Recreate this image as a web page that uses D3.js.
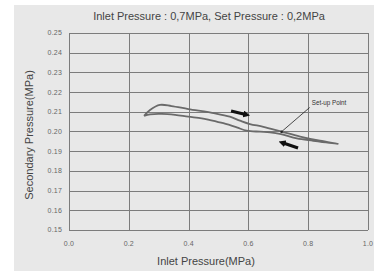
<!DOCTYPE html>
<html lang="en">
<head>
    <meta charset="UTF-8">
    <title>Inlet vs Secondary Pressure</title>
    <script src="https://d3js.org/d3.v7.min.js"></script>
    <style>
        body {
            margin: 0;
            background: #fff;
        }
        svg {
            display: block;
            font-family: "Liberation Sans", Arial, sans-serif;
        }
        .grid line {
            stroke: #7c7c7c;
            stroke-width: 1;
        }
        .tick-label {
            font-size: 7px;
            fill: #666;
            letter-spacing: 0.2px;
        }
        .axis-label {
            font-size: 11px;
            fill: #444;
        }
    </style>
</head>
<body>
    <svg width="374" height="271"></svg>
    <script>
        // Data
        const xTicks = [0.0, 0.2, 0.4, 0.6, 0.8, 1.0];
        const yTicks = [0.15, 0.16, 0.17, 0.18, 0.19, 0.20, 0.21, 0.22, 0.23, 0.24, 0.25];

        // loop: upper branch left -> right, then lower branch right -> left
        const inletPressure = [0.251, 0.271, 0.304, 0.343, 0.399, 0.488, 0.538, 0.572, 0.605, 0.650, 0.711, 0.773, 0.839, 0.901,
                               0.817, 0.762, 0.709, 0.672, 0.639, 0.594, 0.561, 0.516, 0.472, 0.444, 0.399, 0.355, 0.310, 0.271, 0.251];
        const secondaryPressure = [0.2079, 0.2109, 0.2135, 0.2129, 0.2114, 0.2092, 0.2075, 0.2055, 0.2038, 0.2024, 0.1999, 0.1974, 0.1953, 0.1937,
                                   0.1953, 0.1965, 0.1987, 0.1996, 0.1999, 0.2004, 0.2021, 0.2042, 0.2058, 0.2067, 0.2075, 0.2084, 0.2089, 0.2087, 0.2079];

        // direction arrows [x1, y1, x2, y2]
        const arrows = [
            [0.542, 0.2104, 0.594, 0.2085],
            [0.766, 0.1916, 0.712, 0.1944]
        ];
        const setupPoint = {x: 0.711, y: 0.1999, lx: 0.805, ly: 0.2122, label: "Set-up Point"};

        const svg = d3.select("svg");

        // grey panel
        svg.append("rect")
           .attr("x", 14).attr("y", 5)
           .attr("width", 360).attr("height", 266)
           .attr("fill", "#e8e8e8");

        const x = d3.scaleLinear().domain([0, 1]).range([69, 368]);
        const y = d3.scaleLinear().domain([0.15, 0.25]).range([230, 33]);

        // gridlines
        const grid = svg.append("g").attr("class", "grid");
        grid.selectAll(".h")
            .data(yTicks)
            .enter().append("line")
            .attr("x1", x(0)).attr("x2", x(1))
            .attr("y1", d => Math.round(y(d)) + 0.5)
            .attr("y2", d => Math.round(y(d)) + 0.5);
        grid.selectAll(".v")
            .data(xTicks)
            .enter().append("line")
            .attr("y1", y(0.25)).attr("y2", y(0.15))
            .attr("x1", d => Math.round(x(d)) + 0.5)
            .attr("x2", d => Math.round(x(d)) + 0.5);

        // tick labels
        svg.selectAll(".ytl")
           .data(yTicks)
           .enter().append("text")
           .attr("class", "tick-label")
           .attr("x", 62)
           .attr("y", d => y(d))
           .attr("dy", "0.35em")
           .attr("text-anchor", "end")
           .text(d => d.toFixed(2));

        svg.selectAll(".xtl")
           .data(xTicks)
           .enter().append("text")
           .attr("class", "tick-label")
           .attr("x", d => x(d))
           .attr("y", 246)
           .attr("text-anchor", "middle")
           .text(d => d.toFixed(1));

        // title and axis labels
        svg.append("text")
           .attr("class", "axis-label")
           .attr("x", 209).attr("y", 20)
           .attr("text-anchor", "middle")
           .text("Inlet Pressure : 0,7MPa, Set Pressure : 0,2MPa");

        svg.append("text")
           .attr("class", "axis-label")
           .attr("x", 206).attr("y", 265)
           .attr("text-anchor", "middle")
           .text("Inlet Pressure(MPa)");

        svg.append("text")
           .attr("class", "axis-label")
           .attr("transform", "translate(33,135) rotate(-90)")
           .attr("text-anchor", "middle")
           .text("Secondary Pressure(MPa)");

        // the hysteresis loop
        const pts = inletPressure.map((v, i) => [v, secondaryPressure[i]]);
        const line = d3.line()
                       .x(d => x(d[0]))
                       .y(d => y(d[1]))
                       .curve(d3.curveCatmullRom);
        svg.append("path")
           .datum(pts)
           .attr("fill", "none")
           .attr("stroke", "#6a6a6a")
           .attr("stroke-width", 1.8)
           .attr("stroke-linejoin", "round")
           .attr("d", line);

        // arrows
        svg.append("defs").append("marker")
           .attr("id", "head")
           .attr("viewBox", "0 0 10 10")
           .attr("refX", 5).attr("refY", 5)
           .attr("markerWidth", 2.2).attr("markerHeight", 2.2)
           .attr("orient", "auto")
           .append("path")
           .attr("d", "M0,0 L10,5 L0,10 z")
           .attr("fill", "#111");

        svg.selectAll(".arrow")
           .data(arrows)
           .enter().append("line")
           .attr("x1", d => x(d[0])).attr("y1", d => y(d[1]))
           .attr("x2", d => x(d[2])).attr("y2", d => y(d[3]))
           .attr("stroke", "#111")
           .attr("stroke-width", 3.2)
           .attr("marker-end", "url(#head)");

        // set-up point callout
        svg.append("line")
           .attr("x1", x(setupPoint.x)).attr("y1", y(setupPoint.y))
           .attr("x2", x(setupPoint.lx)).attr("y2", y(setupPoint.ly))
           .attr("stroke", "#222")
           .attr("stroke-width", 0.8);
        svg.append("circle")
           .attr("cx", x(setupPoint.x)).attr("cy", y(setupPoint.y))
           .attr("r", 1.3)
           .attr("fill", "#222");
        svg.append("text")
           .attr("x", x(setupPoint.lx) + 2)
           .attr("y", y(setupPoint.ly) - 2)
           .attr("font-size", "6.3px")
           .attr("fill", "#333")
           .text(setupPoint.label);
    </script>
</body>
</html>
